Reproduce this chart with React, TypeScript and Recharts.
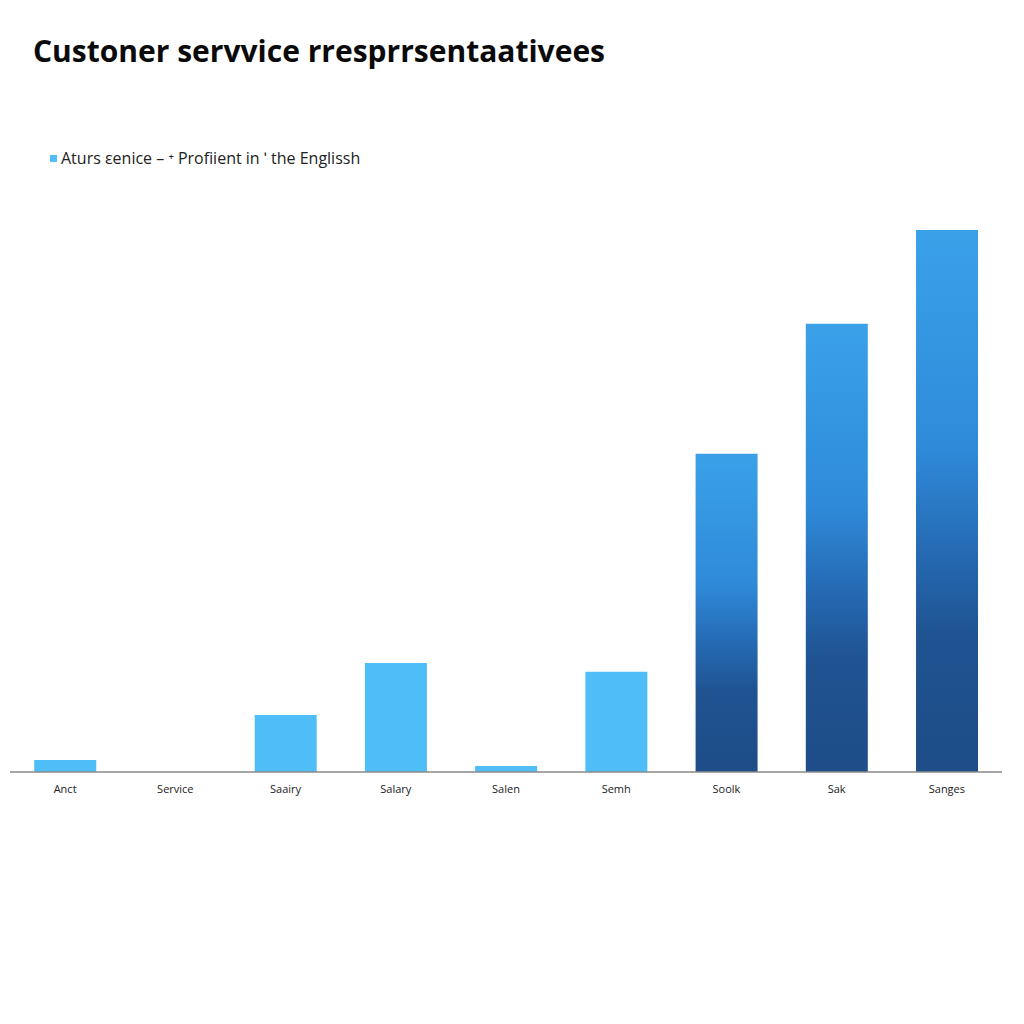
import { BarChart, Bar, XAxis, YAxis, Cell } from 'recharts';

const categories = ['Anct', 'Service', 'Saairy', 'Salary', 'Salen', 'Semh', 'Soolk', 'Sak', 'Sanges'];
const values = [2.2, 0, 10.5, 20.1, 1.1, 18.5, 58.7, 82.7, 100];
const darkBars = [false, false, false, false, false, false, true, true, true];

const data = categories.map((name, i) => ({ name, value: values[i], dark: darkBars[i] }));

const LIGHT = '#4FBDF7';

const App = () => (
  <div style={{ position: 'relative', width: 1024, height: 1024, background: '#fff', fontFamily: '"Open Sans", sans-serif' }}>
    <style>{'body{margin:0}'}</style>
    <div
      style={{
        position: 'absolute', left: 33, top: 30, fontSize: 30, fontWeight: 700,
        color: '#0a0a0a', letterSpacing: 0, whiteSpace: 'nowrap',
      }}
    >
      Custoner servvice rresprrsentaativees
    </div>
    <div style={{ position: 'absolute', left: 50, top: 147, display: 'flex', alignItems: 'center', fontSize: 16, color: '#222' }}>
      <span style={{ display: 'inline-block', width: 7, height: 7, background: LIGHT, marginRight: 4 }} />
      <span>Aturs εenice – ⁺ Profiient in ʹ the Englissh</span>
    </div>
    <div style={{ position: 'absolute', left: 0, top: 0 }}>
      <BarChart
        width={1024}
        height={830}
        data={data}
        margin={{ top: 230, right: 22, bottom: 18, left: 10 }}
        barCategoryGap="22%"
      >
        <defs>
          <linearGradient id="darkGrad" x1="0" y1="0" x2="0" y2="1">
            <stop offset="0%" stopColor="#3AA1E9" />
            <stop offset="40%" stopColor="#2F8BDA" />
            <stop offset="60%" stopColor="#2569B2" />
            <stop offset="75%" stopColor="#1F5391" />
            <stop offset="100%" stopColor="#1E4D88" />
          </linearGradient>
        </defs>
        <XAxis
          dataKey="name"
          height={40}
          tickLine={false}
          tickMargin={7}
          axisLine={{ stroke: '#8a8a8a', strokeWidth: 1.5 }}
          tick={{ fill: '#222', fontSize: 11, fontFamily: '"Open Sans", sans-serif' }}
        />
        <YAxis hide domain={[0, 100]} />
        <Bar dataKey="value" isAnimationActive={false}>
          {data.map((d, i) => (
            <Cell key={i} fill={d.dark ? 'url(#darkGrad)' : LIGHT} />
          ))}
        </Bar>
      </BarChart>
    </div>
  </div>
);

export default App;
